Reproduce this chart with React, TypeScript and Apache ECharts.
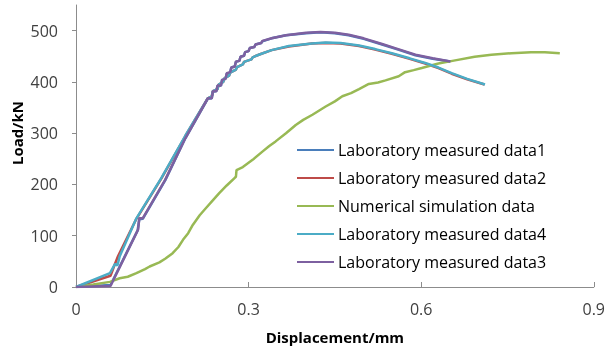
import React, { useEffect, useRef } from "react";
import * as echarts from "echarts";

const seriesNames = [
  "Laboratory measured data1",
  "Laboratory measured data2",
  "Numerical simulation data",
  "Laboratory measured data4",
  "Laboratory measured data3",
];
const colors = ["#4A7EBB", "#BE4B48", "#98B954", "#4BACC6", "#7D60A0"];

const yTicks = [0, 100, 200, 300, 400, 500];
const xTicks = [0, 0.3, 0.6, 0.9];

const data1: [number, number][] = [
  [0, 0], [0.06, 4], [0.107, 110], [0.11, 132], [0.116, 133], [0.155, 208], [0.19, 290],
  [0.229, 367], [0.236, 368], [0.238, 381], [0.244, 382], [0.246, 392], [0.252, 393],
  [0.254, 404], [0.26, 406], [0.262, 416], [0.268, 418], [0.27, 428], [0.276, 430],
  [0.278, 439], [0.284, 441], [0.286, 449], [0.292, 451], [0.294, 458], [0.3, 460],
  [0.302, 466], [0.31, 468], [0.312, 473], [0.322, 476], [0.324, 479], [0.34, 485],
  [0.365, 491], [0.4, 495], [0.425, 497], [0.45, 495], [0.474, 491], [0.5, 484],
  [0.532, 473], [0.56, 463], [0.59, 452], [0.62, 445], [0.65, 440],
];
const data2: [number, number][] = [
  [0, 0], [0.06, 22], [0.066, 40], [0.073, 60], [0.105, 133], [0.148, 211], [0.19, 294],
  [0.229, 368], [0.236, 372], [0.238, 382], [0.246, 386], [0.248, 395], [0.256, 400],
  [0.258, 407], [0.266, 412], [0.268, 418], [0.278, 424], [0.28, 429], [0.29, 434],
  [0.292, 439], [0.305, 444], [0.307, 448], [0.32, 454], [0.34, 462], [0.37, 469],
  [0.41, 475], [0.434, 476], [0.46, 475], [0.492, 470], [0.52, 463], [0.549, 455],
  [0.58, 445], [0.607, 436], [0.63, 427], [0.653, 416], [0.68, 405], [0.71, 395],
];
const simData: [number, number][] = [
  [0, 0], [0.03, 5], [0.059, 10], [0.076, 17], [0.09, 20], [0.105, 27], [0.12, 35],
  [0.128, 40], [0.145, 48], [0.155, 55], [0.168, 66], [0.178, 78], [0.186, 92],
  [0.195, 105], [0.203, 121], [0.215, 140], [0.226, 154], [0.237, 168], [0.249, 183],
  [0.262, 198], [0.276, 213], [0.278, 215], [0.279, 228], [0.29, 234], [0.307, 248],
  [0.324, 264], [0.336, 275], [0.347, 284], [0.365, 300], [0.382, 316], [0.395, 326],
  [0.411, 336], [0.434, 352], [0.45, 362], [0.463, 372], [0.478, 378], [0.492, 386],
  [0.509, 396], [0.525, 399], [0.538, 403], [0.561, 411], [0.572, 419], [0.587, 423],
  [0.601, 427], [0.63, 436], [0.659, 442], [0.693, 449], [0.722, 453], [0.757, 456],
  [0.791, 458], [0.815, 458], [0.841, 456],
];
const data4: [number, number][] = [
  [0, 0], [0.059, 27], [0.068, 45], [0.072, 42], [0.076, 60], [0.105, 134], [0.148, 212],
  [0.19, 295], [0.229, 368], [0.236, 372], [0.238, 382], [0.246, 386], [0.248, 395],
  [0.256, 400], [0.258, 407], [0.266, 412], [0.268, 418], [0.278, 424], [0.28, 429],
  [0.29, 434], [0.292, 439], [0.305, 444], [0.307, 448], [0.32, 454], [0.34, 462],
  [0.37, 470], [0.41, 475], [0.434, 477], [0.46, 476], [0.492, 471], [0.52, 464],
  [0.549, 456], [0.58, 446], [0.607, 437], [0.63, 428], [0.653, 417], [0.68, 406], [0.711, 395],
];
const data3: [number, number][] = [
  [0, 0], [0.06, 2], [0.108, 112], [0.11, 134], [0.116, 134], [0.155, 209], [0.19, 290],
  [0.229, 368], [0.236, 368], [0.238, 382], [0.244, 382], [0.246, 393], [0.252, 393],
  [0.254, 404], [0.26, 406], [0.262, 417], [0.268, 419], [0.27, 428], [0.276, 430],
  [0.278, 440], [0.284, 441], [0.286, 449], [0.292, 451], [0.294, 458], [0.3, 460],
  [0.302, 466], [0.31, 468], [0.312, 473], [0.322, 476], [0.324, 480], [0.34, 485],
  [0.365, 491], [0.4, 496], [0.425, 497.5], [0.45, 496], [0.474, 492], [0.5, 485],
  [0.532, 474], [0.56, 464], [0.59, 453], [0.62, 446], [0.651, 440],
];

const allData = [data1, data2, simData, data4, data3];

export default function App() {
  const ref = useRef<HTMLDivElement>(null);
  useEffect(() => {
    if (!ref.current) return;
    const chart = echarts.init(ref.current, null, { renderer: "svg" });
    const font = "'Open Sans', sans-serif";
    chart.setOption({
      animation: false,
      textStyle: { fontFamily: font },
      grid: { left: 76, right: 12, top: 5, bottom: 65, containLabel: false },
      xAxis: {
        type: "value",
        min: 0,
        max: 0.9,
        interval: 0.3,
        splitLine: { show: false },
        axisLine: { lineStyle: { color: "#8c8c8c", width: 1 } },
        axisTick: { inside: true, length: 5, lineStyle: { color: "#8c8c8c" }, customValues: xTicks },
        axisLabel: { color: "#404040", fontSize: 16, margin: 14, fontFamily: font, customValues: xTicks },
        name: "Displacement/mm",
        nameLocation: "middle",
        nameGap: 42,
        nameTextStyle: { fontSize: 15, fontWeight: "bold", color: "#000", fontFamily: font },
      },
      yAxis: {
        type: "value",
        min: 0,
        max: 550,
        interval: 100,
        splitLine: { show: false },
        axisLine: { show: true, lineStyle: { color: "#8c8c8c", width: 1 } },
        axisTick: { show: true, inside: false, length: 4, lineStyle: { color: "#8c8c8c" }, customValues: yTicks },
        axisLabel: { color: "#404040", fontSize: 16, margin: 18, fontFamily: font, customValues: yTicks },
      },
      legend: {
        orient: "vertical",
        left: 297,
        top: 142,
        padding: 0,
        icon: "rect",
        itemWidth: 37,
        itemHeight: 2,
        itemGap: 12,
        textStyle: { fontSize: 16, color: "#000", fontFamily: font, lineHeight: 16, padding: [0, 0, 0, -1] },
        data: seriesNames,
      },
      graphic: [
        {
          type: "text",
          x: 17,
          y: 133,
          rotation: Math.PI / 2,
          style: {
            text: "Load/kN",
            fontSize: 15,
            fontWeight: "bold",
            fontFamily: font,
            fill: "#000",
            align: "center",
            verticalAlign: "middle",
          },
        },
      ],
      series: seriesNames.map((name, i) => ({
        name,
        type: "line",
        data: allData[i],
        symbol: "none",
        showSymbol: false,
        lineStyle: { color: colors[i], width: 2.5 },
        itemStyle: { color: colors[i] },
        z: 2 + i,
      })),
    });
    return () => chart.dispose();
  }, []);
  return (
    <div
      ref={ref}
      style={{ position: "fixed", left: 0, top: 0, width: 608, height: 352 }}
    />
  );
}
